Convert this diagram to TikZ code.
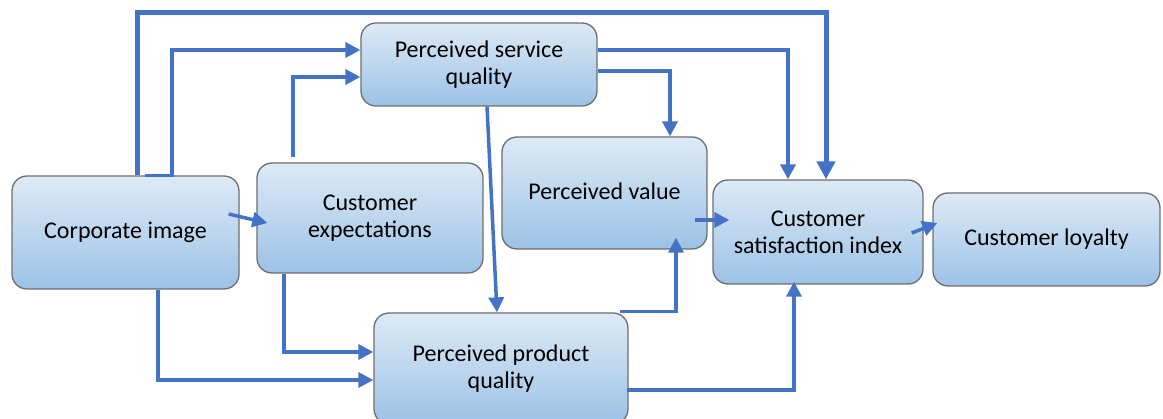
\documentclass[tikz,border=0pt]{standalone}
\usepackage{fontspec}
\setmainfont{Carlito}
\usetikzlibrary{arrows.meta}
\definecolor{boxtop}{HTML}{DDEAF6}
\definecolor{boxbot}{HTML}{9CC2E6}
\definecolor{boxline}{HTML}{6E6E6E}
\definecolor{arr}{HTML}{4472C4}
\tikzset{
  box/.style={draw=boxline, line width=1.3pt, rounded corners=15pt, top color=boxtop, bottom color=boxbot,
    inner sep=0pt, align=center, font=\fontsize{24}{27}\selectfont},
  conn/.style={draw=arr, line width=3.5pt, -{Triangle[length=15pt,width=15pt]}},
  bigconn/.style={draw=arr, line width=5pt, -{Triangle[length=18pt,width=18pt]}},
}
\begin{document}
\begin{tikzpicture}[x=1pt,y=-1pt]
\useasboundingbox (0,0) rectangle (1163,419);
\coordinate (top) at (0,13);
\node[box, minimum width=227pt, minimum height=113pt] (ci) at (125.5,232.5) {Corporate image};
\node[box, minimum width=226pt, minimum height=110pt] (ce) at (370,218) {Customer\\expectations};
\node[box, minimum width=236pt, minimum height=83pt] (psq) at (479,64.5) {Perceived service\\quality};
\node[box, minimum width=205pt, minimum height=112pt] (pv) at (604.5,193) {\raisebox{3pt}{Perceived value}};
\node[box, minimum width=210pt, minimum height=104pt] (csi) at (818,232) {Customer\\satisfaction index};
\node[box, minimum width=227pt, minimum height=93pt] (cl) at (1046.5,239.5) {Customer loyalty};
\node[box, minimum width=254pt, minimum height=111pt] (ppq) at (501,368.5) {Perceived product\\quality};

% big loop
\draw[bigconn] ([xshift=11.5pt]ci.north) -- ([xshift=11.5pt]ci.north |- top) -| ([xshift=8pt]csi.north);
% corporate image -> perceived service quality
\draw[conn] ([xshift=19.5pt]ci.north) -- ([xshift=46.5pt]ci.north) |- ([yshift=14.5pt]psq.west);
% customer expectations -> perceived service quality
\draw[conn] ([xshift=-77pt,yshift=5pt]ce.north) |- ([yshift=-12.5pt]psq.west);
% corporate image -> customer expectations
\draw[conn] ([xshift=-11pt,yshift=18.5pt]ci.east) -- ([xshift=11pt,yshift=-5pt]ce.west);
% corporate image -> perceived product quality
\draw[conn] ([xshift=32.5pt]ci.south) |- ([yshift=-11.5pt]ppq.west);
% customer expectations -> perceived product quality
\draw[conn] ([xshift=-86pt]ce.south) |- ([yshift=16.5pt]ppq.west);
% perceived service quality -> perceived product quality
\draw[conn] ([xshift=8pt]psq.south) -- ([xshift=-4pt]ppq.north);
% perceived service quality -> customer satisfaction index
\draw[conn] ([yshift=14.5pt]psq.east) -| ([xshift=-30pt]csi.north);
% perceived service quality -> perceived value
\draw[conn] ([yshift=-6.5pt]psq.east) -| ([xshift=65.5pt]pv.north);
% perceived value -> customer satisfaction index
\draw[conn] ([xshift=-13pt,yshift=-27pt]pv.east) -- ([xshift=17pt,yshift=12pt]csi.west);
% customer satisfaction index -> customer loyalty
\draw[conn] ([xshift=-12pt,yshift=-1pt]csi.east) -- ([xshift=5pt,yshift=16.5pt]cl.west);
% perceived product quality -> perceived value
\draw[conn] ([xshift=119pt,yshift=1pt]ppq.north) -| ([xshift=71.5pt,yshift=12pt]pv.south);
% perceived product quality -> customer satisfaction index
\draw[conn] ([xshift=-2pt,yshift=-21.5pt]ppq.east) -| ([xshift=-24pt,yshift=3pt]csi.south);
\end{tikzpicture}
\end{document}
